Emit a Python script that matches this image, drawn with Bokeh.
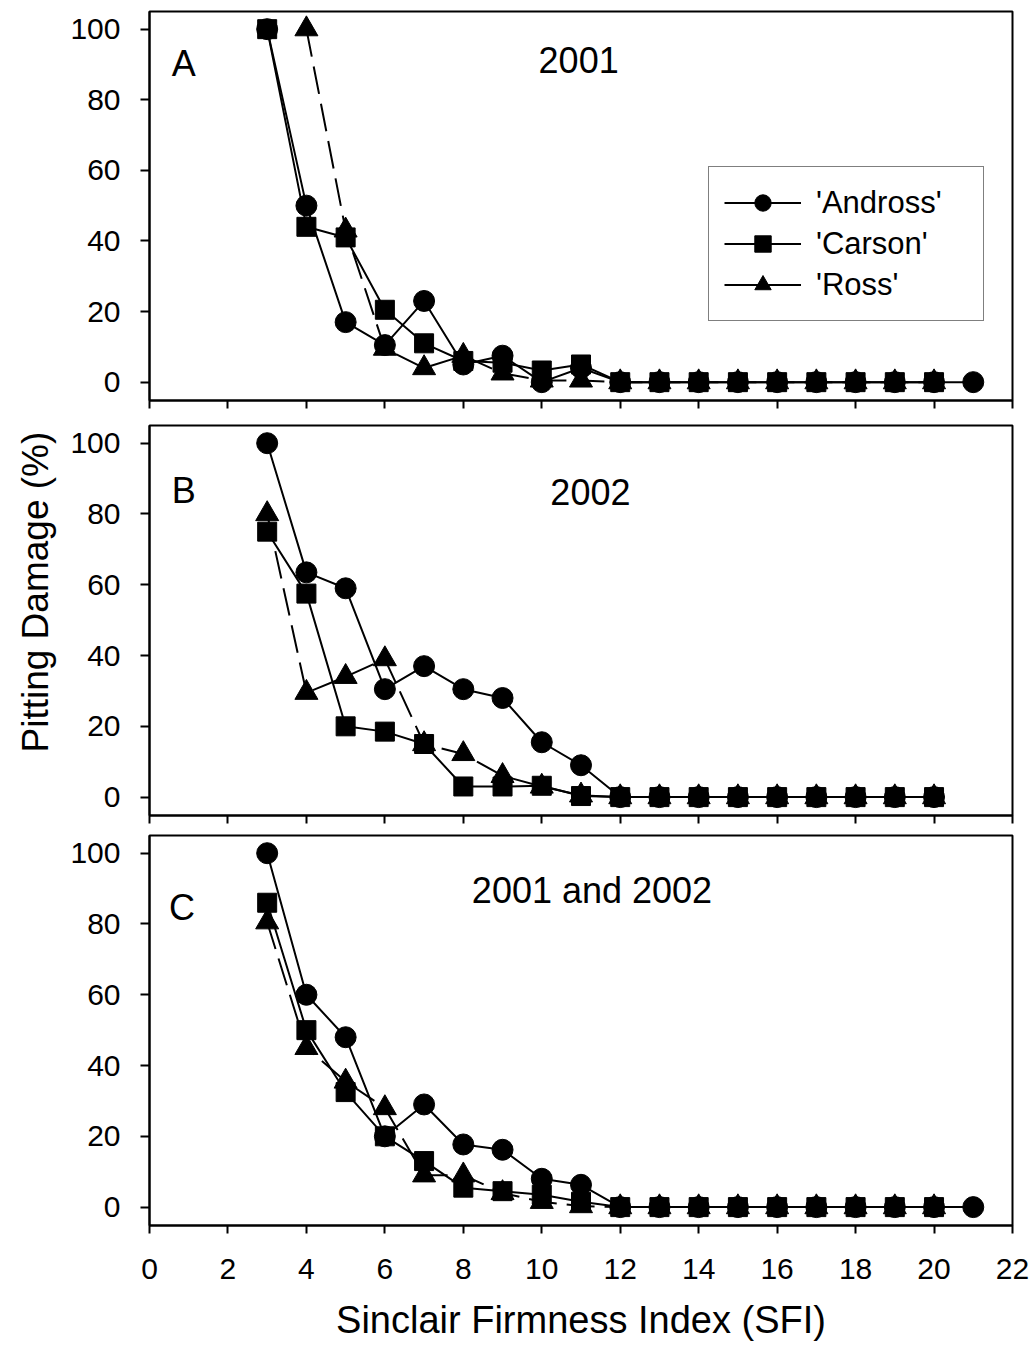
from bokeh.plotting import figure
from bokeh.models import Legend, LegendItem, Range1d, FixedTicker, Label, Title
from bokeh.layouts import column
from bokeh.embed import file_html
from bokeh.resources import INLINE

FONT = "Liberation Sans"

# ---------------- data ----------------
x_ticks = [0, 2, 4, 6, 8, 10, 12, 14, 16, 18, 20, 22]
y_ticks = [0, 20, 40, 60, 80, 100]
cultivars = ["'Andross'", "'Carson'", "'Ross'"]

# Panel A: 2001
sfi_a_andross = list(range(3, 22))
andross_a = [100, 50, 17, 10.5, 23, 5, 7.5, 0, 4, 0, 0, 0, 0, 0, 0, 0, 0, 0, 0]
sfi_a_carson = list(range(3, 21))
carson_a = [100, 44, 41, 20.5, 11, 6, 5.5, 3.3, 5, 0, 0, 0, 0, 0, 0, 0, 0, 0]
sfi_a_ross = list(range(4, 21))
ross_a = [100, 43, 9.5, 4, 7.5, 2.5, 0.5, 0.5, 0, 0, 0, 0, 0, 0, 0, 0, 0]

# Panel B: 2002
sfi_b = list(range(3, 21))
andross_b = [100, 63.5, 59, 30.5, 37, 30.5, 28, 15.5, 9, 0, 0, 0, 0, 0, 0, 0, 0, 0]
carson_b = [75, 57.5, 20, 18.5, 15, 3, 3, 3.2, 0.3, 0, 0, 0, 0, 0, 0, 0, 0, 0]
ross_b = [80, 29.5, 34, 39, 15, 12.2, 6, 3, 0.5, 0, 0, 0, 0, 0, 0, 0, 0, 0]

# Panel C: 2001 and 2002
sfi_c_andross = list(range(3, 22))
andross_c = [100, 60, 48, 20, 29, 17.7, 16.2, 8, 6.3, 0, 0, 0, 0, 0, 0, 0, 0, 0, 0]
sfi_c = list(range(3, 21))
carson_c = [86, 50, 32.5, 20, 13, 5.5, 4.5, 3.5, 1.5, 0, 0, 0, 0, 0, 0, 0, 0, 0]
ross_c = [80.5, 45, 35.5, 28, 9, 9, 4, 1.5, 0.3, 0, 0, 0, 0, 0, 0, 0, 0, 0]

ROSS_DASH = "28 10"


def make_panel(height, border_top, border_bottom, show_x_labels):
    p = figure(width=1030, height=height,
               x_range=Range1d(0, 22), y_range=Range1d(-5.2, 105),
               output_backend="svg", toolbar_location=None,
               min_border_left=149, min_border_right=18,
               min_border_top=border_top, min_border_bottom=border_bottom)
    p.xgrid.visible = False
    p.ygrid.visible = False
    p.background_fill_color = "white"
    p.border_fill_color = "white"
    p.outline_line_color = "black"
    p.outline_line_width = 2
    p.outline_line_alpha = 1

    for ax in (p.xaxis[0], p.yaxis[0]):
        ax.axis_line_color = "black"
        ax.axis_line_width = 2
        ax.major_tick_line_color = "black"
        ax.major_tick_line_width = 2
        ax.major_tick_in = 0
        ax.minor_tick_line_color = None
        ax.major_label_text_font = FONT
        ax.major_label_text_font_size = "30px"
        ax.major_label_text_color = "black"

    p.xaxis.ticker = FixedTicker(ticks=x_ticks)
    p.yaxis.ticker = FixedTicker(ticks=y_ticks)
    p.yaxis.major_tick_out = 9
    p.yaxis.major_label_standoff = 20
    p.xaxis.major_tick_out = 8
    if show_x_labels:
        p.xaxis.major_label_standoff = 25
    else:
        p.xaxis.major_label_text_color = None
        p.xaxis.major_label_text_font_size = "4px"
        p.xaxis.major_label_standoff = 0
    return p


def draw_series(p, xs, ys, marker, size, dash="solid"):
    lr = p.line(xs, ys, line_color="black", line_width=2, line_dash=dash)
    sr = p.scatter(xs, ys, marker=marker, size=size, fill_color="black", line_color="black")
    return lr, sr


def add_text(p, x, y, txt, align="left", size="36px"):
    p.add_layout(Label(x=x, y=y, text=txt, text_font=FONT, text_font_size=size,
                       text_color="black", text_align=align, text_baseline="alphabetic"))


# ---------------- Panel A ----------------
pa = make_panel(420, 11, 20, False)
a_l, a_s = draw_series(pa, sfi_a_andross, andross_a, "circle", 21)
c_l, c_s = draw_series(pa, sfi_a_carson, carson_a, "square", 19)
r_l, r_s = draw_series(pa, sfi_a_ross, ross_a, "triangle", 23, ROSS_DASH)
add_text(pa, 0.57, 90.2, "A")
add_text(pa, 10.94, 91.4, "2001", align="center")

# the key shows a solid sample line for 'Ross': a solid copy of the Ross line
# mapped to a y range far above the data, so it is clipped away in the plot
pa.extra_y_ranges = {"key": Range1d(1000, 1100)}
r_key = pa.line(sfi_a_ross, ross_a, line_color="black", line_width=2, y_range_name="key")

items = [LegendItem(label=cultivars[0], renderers=[a_l, a_s]),
         LegendItem(label=cultivars[1], renderers=[c_l, c_s]),
         LegendItem(label=cultivars[2], renderers=[r_key, r_s])]

legend = Legend(items=items, location=(559, 79),
                border_line_color="black", border_line_width=1.5,
                background_fill_color="white", background_fill_alpha=1,
                label_text_font=FONT, label_text_font_size="31px",
                label_text_color="black",
                glyph_width=77, glyph_height=41, padding=15, spacing=0,
                label_standoff=15, label_width=152, margin=0)
pa.add_layout(legend)

# ---------------- Panel B ----------------
pb = make_panel(410, 5, 15, False)
draw_series(pb, sfi_b, andross_b, "circle", 21)
draw_series(pb, sfi_b, carson_b, "square", 19)
draw_series(pb, sfi_b, ross_b, "triangle", 23, ROSS_DASH)
add_text(pb, 0.57, 86.6, "B")
add_text(pb, 11.24, 86.1, "2002", align="center")

title_kwargs = dict(text="Pitting Damage (%)", align="left", offset=63,
                    text_font=FONT, text_font_size="37px", text_font_style="normal",
                    text_color="black")
try:
    ytitle = Title(standoff=24, **title_kwargs)
except Exception:
    ytitle = Title(**title_kwargs)
pb.add_layout(ytitle, "left")

# ---------------- Panel C ----------------
pc = make_panel(515, 5, 120, True)
draw_series(pc, sfi_c_andross, andross_c, "circle", 21)
draw_series(pc, sfi_c, carson_c, "square", 19)
draw_series(pc, sfi_c, ross_c, "triangle", 23, ROSS_DASH)
add_text(pc, 0.5, 84.7, "C")
add_text(pc, 11.28, 89.5, "2001 and 2002", align="center")
pc.xaxis.axis_label = "Sinclair Firmness Index (SFI)"
pc.xaxis.axis_label_text_font = FONT
pc.xaxis.axis_label_text_font_size = "38px"
pc.xaxis.axis_label_text_font_style = "normal"
pc.xaxis.axis_label_text_color = "black"
pc.xaxis.axis_label_standoff = 17

layout = column(pa, pb, pc, spacing=0)

with open("out.html", "w") as f:
    f.write(file_html(layout, INLINE))
